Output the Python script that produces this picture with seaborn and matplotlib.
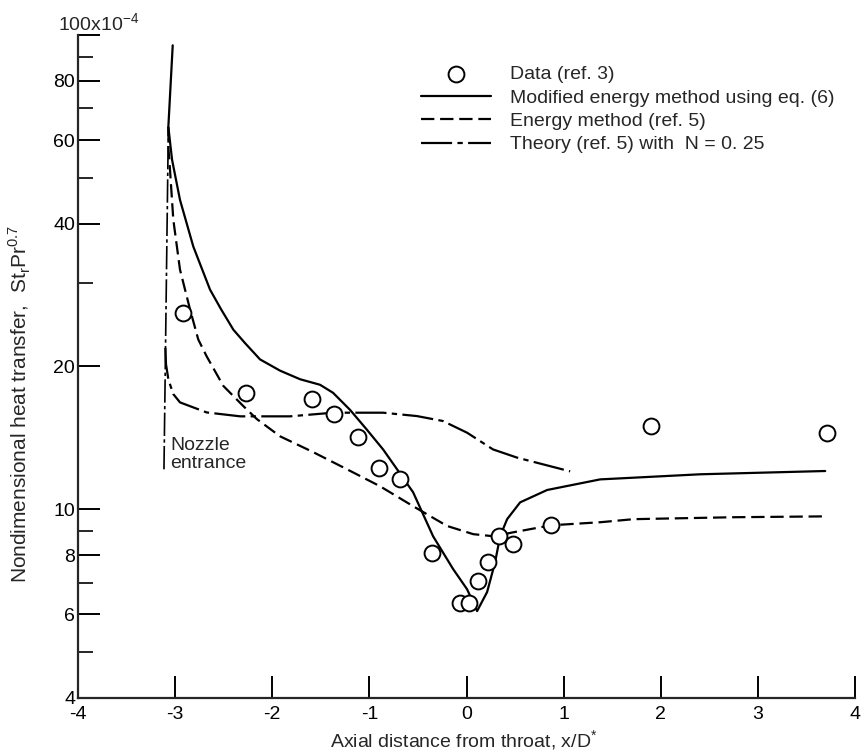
import numpy as np
import pandas as pd
import matplotlib
matplotlib.use("Agg")
import matplotlib.pyplot as plt
import seaborn as sns

# ---- data (x = x/D*, y in units of 1e-4) ----
data_x = [-2.92, -2.27, -1.59, -1.36, -1.12, -0.90, -0.68, -0.36, -0.07, 0.03,
          0.12, 0.22, 0.33, 0.48, 0.87, 1.90, 3.71]
data_y = [25.9, 17.6, 17.1, 15.9, 14.2, 12.2, 11.6, 8.1, 6.34, 6.34,
          7.05, 7.75, 8.8, 8.45, 9.25, 14.95, 14.45]

modified_x = [-3.025, -3.07, -3.032, -2.95, -2.813, -2.641, -2.527, -2.40, -2.28, -2.126,
              -1.92, -1.714, -1.508, -1.374, -1.199, -1.024, -0.859, -0.715, -0.55, -0.344,
              -0.138, 0.006, 0.109, 0.212, 0.294, 0.346, 0.418, 0.552, 0.830, 1.376,
              2.406, 3.693]
modified_y = [95.1, 64.0, 54.6, 44.9, 35.8, 29.05, 26.4, 23.9, 22.4, 20.7,
              19.6, 18.8, 18.3, 17.6, 16.2, 14.7, 13.37, 12.14, 10.86, 8.77,
              7.48, 6.78, 6.10, 6.69, 7.73, 8.77, 9.53, 10.34, 10.98, 11.56,
              11.85, 12.04]

energy_x = [-3.07, -3.068, -3.053, -3.019, -2.95, -2.847, -2.762, -2.675, -2.504, -2.298,
            -2.16, -1.92, -1.58, -1.23, -0.89, -0.55, -0.20, 0.07, 0.28, 0.48,
            0.87, 1.38, 1.72, 2.75, 3.69]
energy_y = [64.0, 57.3, 52.0, 40.8, 32.0, 26.4, 22.8, 21.0, 18.2, 16.5,
            15.5, 14.25, 13.2, 12.14, 11.18, 10.15, 9.22, 8.86, 8.77, 8.94,
            9.25, 9.39, 9.53, 9.62, 9.66]

theory_x = [-3.101, -3.094, -3.07, -3.02, -2.95, -2.675, -2.33, -1.817, -1.374, -0.859,
            -0.51, -0.244, 0.006, 0.273, 0.52, 1.067]
theory_y = [21.9, 20.2, 18.8, 17.5, 16.8, 16.0, 15.7, 15.7, 15.98, 15.98,
            15.72, 15.35, 14.5, 13.37, 12.85, 12.02]

nozzle_x = [-3.115, -3.07]
nozzle_y = [12.14, 64.0]

labels = ["Data (ref. 3)", "Modified energy method using eq. (6)",
          "Energy method (ref. 5)", "Theory (ref. 5) with  N = 0. 25"]

sns.set_theme(style="ticks")
plt.rcParams['font.family'] = ['Liberation Sans', 'DejaVu Sans']
plt.rcParams['mathtext.fontset'] = 'custom'
plt.rcParams['mathtext.rm'] = 'Liberation Sans'
plt.rcParams['axes.unicode_minus'] = False
plt.rcParams['axes.linewidth'] = 1.6
fs = 14

fig, ax = plt.subplots(figsize=(8.64, 7.54), dpi=100)
fig.subplots_adjust(left=0.0903, right=0.9896, top=0.9536, bottom=0.0743)

lw = 1.6
sns.lineplot(x=modified_x, y=modified_y, ax=ax, color="black", lw=lw, sort=False,
             estimator=None, label=labels[1])
sns.lineplot(x=energy_x, y=energy_y, ax=ax, color="black", lw=lw, sort=False,
             estimator=None, linestyle=(0, (6, 2.6)), label=labels[2])
sns.lineplot(x=theory_x, y=theory_y, ax=ax, color="black", lw=lw, sort=False,
             estimator=None, linestyle=(0, (14, 2.4, 2.4, 2.4)), label=labels[3])
ax.plot(nozzle_x, nozzle_y, color="black", lw=1.2, linestyle=(0, (14, 2, 2, 2)))
sns.scatterplot(x=data_x, y=data_y, ax=ax, marker="o", s=130, facecolor="white",
                edgecolor="black", linewidth=1.4, zorder=5, label=labels[0])

ax.set_yscale("log")
ax.set_xlim(-4, 4)
ax.set_ylim(4, 100)

ax.set_xticks(range(-4, 5))
ax.set_xticklabels([str(v) for v in range(-4, 5)], fontsize=fs)
ax.set_yticks([4, 6, 8, 10, 20, 40, 60, 80, 100])
ax.set_yticklabels(["4", "6", "8", "10", "20", "40", "60", "80", ""], fontsize=fs)
ax.set_yticks([5, 7, 9, 30, 50, 70, 90], minor=True)
ax.yaxis.set_minor_formatter(matplotlib.ticker.NullFormatter())
ax.tick_params(axis="both", which="major", direction="in", length=16, width=1.4,
               colors="black")
ax.tick_params(axis="x", which="major", pad=6)
ax.tick_params(axis="y", which="minor", direction="in", length=11, width=1.4)
ax.tick_params(axis="y", which="major", pad=2)
sns.despine(ax=ax)

ax.text(-0.026, 100, r"100x10$^{-4}$", transform=ax.get_yaxis_transform(),
        ha="left", va="bottom", fontsize=fs)

ax.set_xlabel(r"Axial distance from throat, x/D$^{*}$", fontsize=fs)
ax.set_ylabel(r"Nondimensional heat transfer,  St$_{\rm r}$Pr$^{0.7}$", fontsize=fs + 1)
ax.xaxis.set_label_coords(0.496, -0.046)
ax.yaxis.set_label_coords(-0.058, 0.443)

ax.text(-3.05, 14.2, "Nozzle\nentrance", fontsize=fs, ha="left", va="top",
        linespacing=1.1)

h, l = ax.get_legend_handles_labels()
order = [l.index(t) for t in labels]
ax.legend([h[i] for i in order], [l[i] for i in order], loc="upper left",
          bbox_to_anchor=(0.4414, 0.954), frameon=False, fontsize=fs,
          handlelength=3.6, handletextpad=1.0, labelspacing=0.3,
          borderpad=0, borderaxespad=0)

fig.savefig("out.png", dpi=100)
